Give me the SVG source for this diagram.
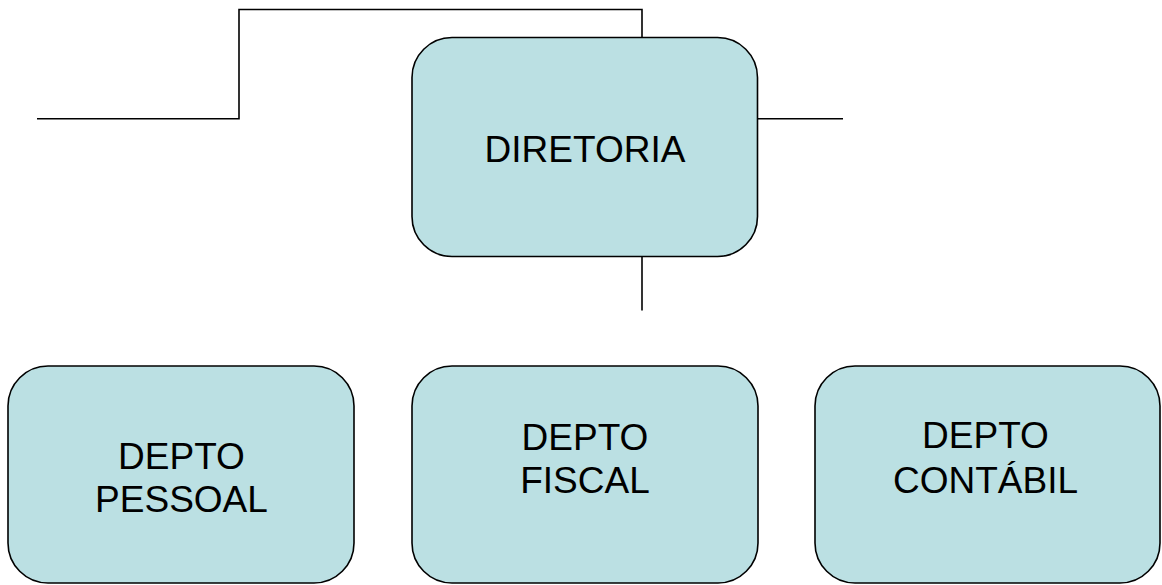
<svg xmlns="http://www.w3.org/2000/svg" width="1162" height="585" viewBox="0 0 1162 585">
<style>
.box{fill:#BBE0E3;stroke:#000;stroke-width:1.6}
.lbl{font-family:"Liberation Sans",Arial,sans-serif;font-size:37px;fill:#000;text-anchor:middle}
.con{fill:none;stroke:#000;stroke-width:1.6}
</style>
<rect width="1162" height="585" fill="#fff"/>
<g id="connectors">
<polyline class="con" points="37,118.7 239,118.7 239,9.5 642,9.5 642,37.5"/>
<line class="con" x1="757.5" y1="118.7" x2="843" y2="118.7"/>
<line class="con" x1="642" y1="256.5" x2="642" y2="310.5"/>
</g>
<g id="diretoria">
<rect class="box" x="412" y="37.5" width="345.5" height="219" rx="40" ry="40"/>
<text class="lbl" x="585" y="161.5">DIRETORIA</text>
</g>
<g id="depto-pessoal">
<rect class="box" x="8" y="366" width="346" height="217" rx="40" ry="40"/>
<text class="lbl" x="181.5" y="468.5">DEPTO</text>
<text class="lbl" x="181.5" y="511.5">PESSOAL</text>
</g>
<g id="depto-fiscal">
<rect class="box" x="412" y="366" width="346" height="217" rx="40" ry="40"/>
<text class="lbl" x="585" y="450">DEPTO</text>
<text class="lbl" x="585" y="492.5">FISCAL</text>
</g>
<g id="depto-contabil">
<rect class="box" x="815" y="366" width="345" height="217" rx="40" ry="40"/>
<text class="lbl" x="985.5" y="447.5">DEPTO</text>
<text class="lbl" x="985.5" y="492.5">CONTÁBIL</text>
</g>
</svg>
